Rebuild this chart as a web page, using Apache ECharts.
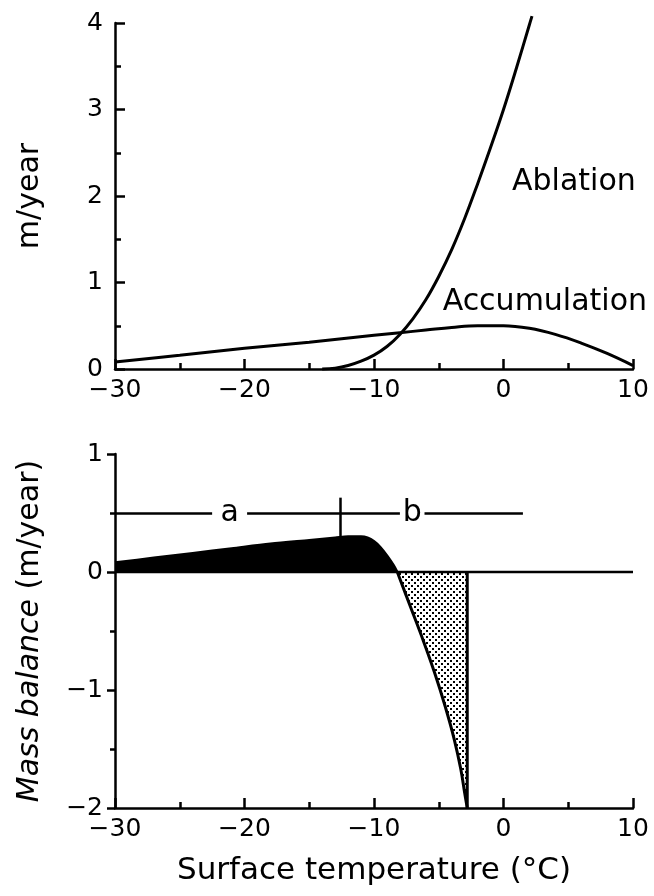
<!DOCTYPE html>
<html>
<head>
<meta charset="utf-8">
<script src="https://cdn.jsdelivr.net/npm/echarts@6/dist/echarts.min.js"></script>
<style>
html,body{margin:0;padding:0;background:#fff;}
#chart{width:654px;height:896px;}
</style>
</head>
<body>
<div id="chart"></div>
<script>
// ---- data ----
const accTemp = [-30, -25, -20, -15, -10, -8, -6, -4, -2, 0, 2, 4, 6, 8, 10];
const accumulation = [0.08, 0.16, 0.24, 0.31, 0.39, 0.42, 0.45, 0.48, 0.50, 0.50, 0.47, 0.40, 0.30, 0.18, 0.04];

const ablTemp = [-14, -13, -12, -11, -10, -9, -8, -7, -6, -5, -4, -3, -2, -1, 0, 1, 2, 2.2];
const ablation = [0, 0.01, 0.04, 0.09, 0.16, 0.26, 0.40, 0.58, 0.80, 1.07, 1.38, 1.74, 2.14, 2.56, 3.0, 3.48, 3.98, 4.08];

const mbPosTemp = [-30, -27, -24, -21, -18, -15, -13, -12, -11, -10.5, -10, -9.5, -9, -8.5, -8.2];
const mbPos = [0.08, 0.12, 0.16, 0.20, 0.24, 0.27, 0.29, 0.30, 0.30, 0.29, 0.26, 0.21, 0.14, 0.06, 0];

const mbNegTemp = [-8.2, -7.2, -6.2, -5.3, -4.5, -3.8, -3.3, -3.0, -2.8];
const mbNeg = [0, -0.29, -0.58, -0.86, -1.14, -1.42, -1.67, -1.87, -2.0];

const topYTicks = [0, 1, 2, 3, 4];
const bottomYTicks = [-2, -1, 0, 1];
const xTicks = [-30, -20, -10, 0, 10];

const curveNames = ['Ablation', 'Accumulation'];
const zoneNames = ['a', 'b'];

// ---- helpers ----
const FONT = 'DejaVu Sans';
const pairs = (xs, ys) => xs.map((x, i) => [x, ys[i]]);
const fmt = v => String(v).replace('-', '\u2212');

const pat = document.createElement('canvas');
pat.width = 6; pat.height = 6;
const pc = pat.getContext('2d');
pc.fillStyle = '#fff'; pc.fillRect(0, 0, 6, 6);
pc.fillStyle = '#000';
pc.fillRect(0, 0, 2, 2);
pc.fillRect(3, 3, 2, 2);

const axisLine = { show: true, onZero: false, lineStyle: { color: '#000', width: 2.5 } };
const xAxisCommon = {
  type: 'value', min: xTicks[0], max: xTicks[xTicks.length - 1], interval: 10,
  axisLine: axisLine,
  axisTick: { show: true, inside: true, length: 10, lineStyle: { color: '#000', width: 2.5 } },
  minorTick: { show: true, splitNumber: 2, length: 6, lineStyle: { color: '#000', width: 2.5 } },
  splitLine: { show: false },
  axisLabel: { formatter: fmt, fontFamily: FONT, fontSize: 25, color: '#000', margin: 9 }
};

const chart = echarts.init(document.getElementById('chart'), null, { renderer: 'canvas' });
chart.setOption({
  animation: false,
  backgroundColor: '#fff',
  grid: [
    { left: 115, top: 23, width: 518, height: 346 },
    { left: 115, top: 454, width: 518, height: 354 }
  ],
  xAxis: [
    Object.assign({}, xAxisCommon, { gridIndex: 0 }),
    Object.assign({}, xAxisCommon, {
      gridIndex: 1,
      name: 'Surface temperature (°C)', nameLocation: 'middle', nameGap: 47,
      nameTextStyle: { fontFamily: FONT, fontSize: 31, color: '#000' }
    })
  ],
  yAxis: [
    {
      type: 'value', gridIndex: 0, min: topYTicks[0], max: topYTicks[topYTicks.length - 1], interval: 1,
      axisLine: axisLine,
      axisTick: { show: true, inside: true, length: 10, lineStyle: { color: '#000', width: 2.5 } },
      minorTick: { show: true, splitNumber: 2, length: 6, lineStyle: { color: '#000', width: 2.5 } },
      splitLine: { show: false },
      axisLabel: { formatter: fmt, fontFamily: FONT, fontSize: 25, color: '#000', margin: 12 },
      name: 'm/year', nameLocation: 'middle', nameGap: 70, nameRotate: 90,
      nameTextStyle: { fontFamily: FONT, fontSize: 30, color: '#000' }
    },
    {
      type: 'value', gridIndex: 1, min: bottomYTicks[0], max: bottomYTicks[bottomYTicks.length - 1], interval: 1,
      axisLine: axisLine,
      axisTick: { show: true, inside: false, length: 8, lineStyle: { color: '#000', width: 2.5 } },
      minorTick: { show: true, splitNumber: 2, length: 5, lineStyle: { color: '#000', width: 2.5 } },
      splitLine: { show: false },
      axisLabel: { formatter: fmt, fontFamily: FONT, fontSize: 25, color: '#000', margin: 12 },
      name: '{i|Mass balance} (m/year)', nameLocation: 'middle', nameGap: 70, nameRotate: 90,
      nameTextStyle: {
        fontFamily: FONT, fontSize: 30, color: '#000',
        rich: { i: { fontFamily: FONT, fontSize: 30, fontStyle: 'italic', color: '#000' } }
      }
    }
  ],
  series: [
    {
      name: 'Accumulation', type: 'line', xAxisIndex: 0, yAxisIndex: 0,
      data: pairs(accTemp, accumulation), smooth: 0.4, showSymbol: false, clip: false,
      lineStyle: { color: '#000', width: 3 },
      markPoint: {
        symbol: 'circle', symbolSize: 0,
        label: { show: true, position: 'right', distance: 0, fontFamily: FONT, fontSize: 30, color: '#000', formatter: p => p.name },
        data: [{ name: curveNames[1], coord: [-4.7, 0.77] }]
      }
    },
    {
      name: 'Ablation', type: 'line', xAxisIndex: 0, yAxisIndex: 0,
      data: pairs(ablTemp, ablation), smooth: 0.4, showSymbol: false, clip: false,
      lineStyle: { color: '#000', width: 3 },
      markPoint: {
        symbol: 'circle', symbolSize: 0,
        label: { show: true, position: 'right', distance: 0, fontFamily: FONT, fontSize: 30, color: '#000', formatter: p => p.name },
        data: [{ name: curveNames[0], coord: [0.66, 2.16] }]
      }
    },
    {
      name: 'zero', type: 'line', xAxisIndex: 1, yAxisIndex: 1,
      data: [[xTicks[0], 0], [xTicks[xTicks.length - 1], 0]], showSymbol: false,
      lineStyle: { color: '#000', width: 2.5 },
      markLine: {
        silent: true, symbol: 'none', animation: false,
        lineStyle: { color: '#000', width: 2.5, type: 'solid' },
        label: { show: false },
        data: [
          [{ coord: [-30, 0.5] }, { coord: [-22.5, 0.5] }],
          [{ coord: [-19.8, 0.5] }, { coord: [-8.0, 0.5] }],
          [{ coord: [-6.1, 0.5] }, { coord: [1.5, 0.5] }],
          [{ coord: [-12.6, 0.3] }, { coord: [-12.6, 0.63] }]
        ]
      },
      markPoint: {
        symbol: 'circle', symbolSize: 0,
        label: { show: true, position: 'inside', fontFamily: FONT, fontSize: 30, color: '#000', formatter: p => p.name },
        data: [
          { name: zoneNames[0], coord: [-21.15, 0.5] },
          { name: zoneNames[1], coord: [-7.05, 0.5] }
        ]
      }
    },
    {
      name: 'Mass balance +', type: 'line', xAxisIndex: 1, yAxisIndex: 1,
      data: pairs(mbPosTemp, mbPos), smooth: 0.3, showSymbol: false,
      lineStyle: { color: '#000', width: 2.5 },
      areaStyle: { color: '#000', opacity: 1 }
    },
    {
      name: 'Mass balance -', type: 'line', xAxisIndex: 1, yAxisIndex: 1,
      data: pairs(mbNegTemp, mbNeg), smooth: 0.4, showSymbol: false,
      lineStyle: { color: '#000', width: 3 },
      areaStyle: { color: { image: pat, repeat: 'repeat' }, opacity: 1 }
    },
    {
      name: 'boundary', type: 'line', xAxisIndex: 1, yAxisIndex: 1,
      data: [[mbNegTemp[mbNegTemp.length - 1], 0], [mbNegTemp[mbNegTemp.length - 1], mbNeg[mbNeg.length - 1]]],
      showSymbol: false,
      lineStyle: { color: '#000', width: 3 }
    }
  ]
});
</script>
</body>
</html>
